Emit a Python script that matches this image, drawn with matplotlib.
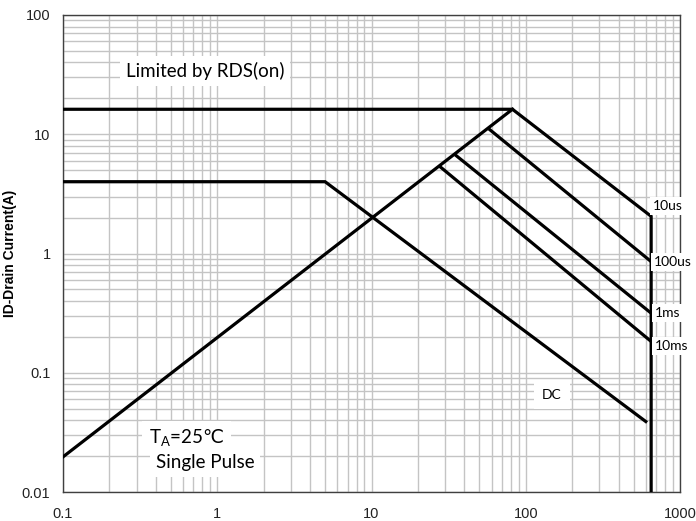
import matplotlib
matplotlib.use("Agg")
import matplotlib.pyplot as plt
from matplotlib.ticker import LogLocator, FixedLocator, FixedFormatter, NullFormatter

plt.rcParams['mathtext.fontset'] = 'custom'
plt.rcParams['mathtext.rm'] = 'Lato'
plt.rcParams['mathtext.it'] = 'Lato'
plt.rcParams['mathtext.sf'] = 'DejaVu Sans'

# Data (V, A)
x_rds = [0.1, 82]
y_rds = [0.0197, 16.2]
x_10us = [0.1, 82, 650, 650]
y_10us = [16.2, 16.2, 2.05, 0.01]
x_100us = [58.6, 650]
y_100us = [10.9, 0.855]
x_1ms = [35.5, 650]
y_1ms = [6.6, 0.316]
x_10ms = [27.8, 650]
y_10ms = [5.35, 0.183]
x_dc = [0.1, 5.0, 600]
y_dc = [4.0, 4.0, 0.039]

x_ticks = [0.1, 1, 10, 100, 1000]
x_ticklabels = ["0.1", "1", "10", "100", "1000"]
y_ticks = [0.01, 0.1, 1, 10, 100]
y_ticklabels = ["0.01", "0.1", "1", "10", "100"]

fig = plt.figure(figsize=(6.96, 5.21), dpi=100)
ax = fig.add_axes([63/696, 29/521, 617/696, 477/521])
ax.set_xscale('log')
ax.set_yscale('log')
ax.set_xlim(0.1, 1000)
ax.set_ylim(0.01, 100)

ax.xaxis.set_major_locator(FixedLocator(x_ticks))
ax.xaxis.set_major_formatter(FixedFormatter(x_ticklabels))
ax.yaxis.set_major_locator(FixedLocator(y_ticks))
ax.yaxis.set_major_formatter(FixedFormatter(y_ticklabels))
ax.xaxis.set_minor_locator(LogLocator(base=10, subs=range(2, 10), numticks=20))
ax.yaxis.set_minor_locator(LogLocator(base=10, subs=range(2, 10), numticks=20))
ax.xaxis.set_minor_formatter(NullFormatter())
ax.yaxis.set_minor_formatter(NullFormatter())

ax.grid(True, which='both', color='#c4c4c4', linewidth=1.0)
ax.set_axisbelow(True)
ax.tick_params(which='both', length=0)
ax.tick_params(axis='x', pad=11)
ax.tick_params(axis='y', pad=9)
for lab in ax.get_xticklabels() + ax.get_yticklabels():
    lab.set_fontfamily('Liberation Sans')
    lab.set_fontsize(10.5)
    lab.set_color('#222222')
for s in ax.spines.values():
    s.set_color('#404040')
    s.set_linewidth(1.0)

lw = 2.3
for xs, ys in [(x_rds, y_rds), (x_10us, y_10us), (x_100us, y_100us),
               (x_1ms, y_1ms), (x_10ms, y_10ms), (x_dc, y_dc)]:
    ax.plot(xs, ys, color='black', linewidth=lw, solid_joinstyle='miter', zorder=3)

box = dict(facecolor='white', edgecolor='none', pad=2)
fam = ['Lato', 'DejaVu Sans']
fs_small = 10
ax.text(836, 2.5, "10us", fontsize=fs_small, family=fam, ha='center', va='center', bbox=box, zorder=4)
ax.text(900, 0.85, "100us", fontsize=fs_small, family=fam, ha='center', va='center', bbox=box, zorder=4)
ax.text(836, 0.318, "1ms", fontsize=fs_small, family=fam, ha='center', va='center', bbox=box, zorder=4)
ax.text(880, 0.168, "10ms", fontsize=fs_small, family=fam, ha='center', va='center', bbox=box, zorder=4)
ax.text(148, 0.065, "DC", fontsize=fs_small, family=fam, ha='center', va='center',
        bbox=dict(facecolor='white', edgecolor='none', pad=6), zorder=2)
ax.text(0.83, 34, "Limited by RDS(on)", fontsize=13.5, family=fam, ha='center', va='center',
        bbox=dict(facecolor='white', edgecolor='none', pad=4), zorder=2)

ax.text(0.36, 0.0284, "T$_\\mathrm{A}$=25$\\mathsf{℃}$", fontsize=13.5, family=fam,
        ha='left', va='center', bbox=dict(facecolor='white', edgecolor='none', pad=5), zorder=2)
ax.text(0.40, 0.0176, "Single Pulse", fontsize=13.5, family=fam, ha='left', va='center',
        bbox=dict(facecolor='white', edgecolor='none', pad=4), zorder=2)

ax.set_ylabel("ID-Drain Current(A)", fontsize=10, fontweight='bold', family='Liberation Sans')
ax.yaxis.set_label_coords(-0.0746, 0.5)

fig.savefig("out.png", dpi=100)
